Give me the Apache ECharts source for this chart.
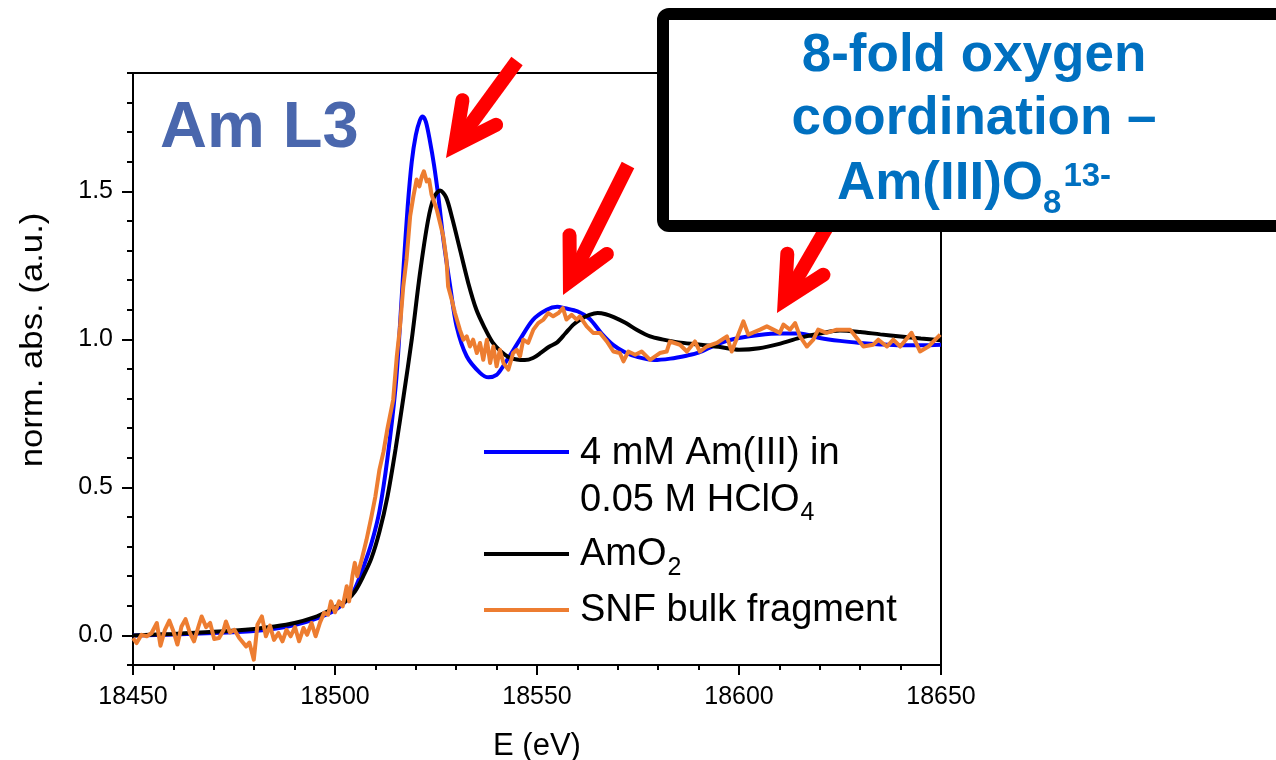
<!DOCTYPE html>
<html>
<head>
<meta charset="utf-8">
<script src="https://cdn.jsdelivr.net/npm/echarts@6/dist/echarts.min.js"></script>
<style>html,body{margin:0;padding:0;background:#fff}#c{width:1276px;height:760px}</style>
</head>
<body>
<div id="c"></div>
<script>
// ---------------- data ----------------
const xTicks = [18450, 18500, 18550, 18600, 18650];
const yTicks = [0.0, 0.5, 1.0, 1.5];
const seriesNames = ['4 mM Am(III) in 0.05 M HClO4', 'AmO2', 'SNF bulk fragment'];

const blueE = [18450,18460,18470,18480,18485,18490,18495,18500,18503,18505,18507,18509,18511,18513,18515,18516,18517,18518,18519,18520,18521,18521.7,18522.5,18523.5,18524.5,18525.6,18526.8,18528.5,18530.1,18532.6,18535.9,18538,18540,18541.6,18545.8,18549,18552.4,18555,18557,18560,18563,18566,18569,18572,18575,18579,18583,18587,18590,18594,18597,18600,18605,18610,18615,18620,18625,18630,18635,18640,18645,18650];
const blueV = [0.0,0.003,0.008,0.015,0.022,0.035,0.055,0.085,0.12,0.16,0.23,0.31,0.42,0.6,0.84,1.03,1.25,1.45,1.6,1.69,1.74,1.753,1.735,1.67,1.59,1.48,1.34,1.18,1.044,0.943,0.887,0.872,0.88,0.909,1.0,1.066,1.10,1.11,1.105,1.095,1.07,1.02,0.98,0.955,0.94,0.93,0.935,0.945,0.955,0.98,0.995,1.005,1.015,1.02,1.02,1.005,0.995,0.988,0.983,0.98,0.98,0.982];

const blackE = [18450,18460,18470,18480,18485,18490,18495,18498,18500,18503,18505,18507,18509,18511,18513,18515,18517,18519,18521,18523,18524.5,18526,18527.5,18529,18531,18533,18535,18537,18539,18541,18543,18545,18547,18549,18551,18553,18555,18557,18559,18561,18563,18565,18567,18569,18572,18575,18578,18581,18585,18590,18595,18600,18605,18610,18615,18620,18625,18630,18635,18640,18645,18650];
const blackV = [0.0,0.005,0.012,0.022,0.03,0.042,0.062,0.08,0.095,0.12,0.15,0.2,0.26,0.35,0.47,0.63,0.81,1.0,1.22,1.40,1.48,1.503,1.48,1.41,1.30,1.19,1.10,1.04,0.99,0.96,0.94,0.932,0.93,0.937,0.955,0.975,0.99,1.02,1.05,1.07,1.083,1.089,1.085,1.075,1.055,1.03,1.01,1.0,0.99,0.983,0.975,0.965,0.97,0.985,1.005,1.02,1.03,1.025,1.017,1.01,1.003,0.997];

const orangeE = [18450,18450.9,18452.1,18453.4,18454.6,18455.9,18456.8,18457.9,18459,18460,18461,18462,18463,18464.1,18465.1,18466.2,18467,18468.1,18469.1,18470.1,18471.3,18472.4,18473,18474,18475.1,18476.3,18478,18478.8,18479.9,18480.8,18481.9,18482.9,18483.9,18484.9,18486,18487,18488,18489,18490.1,18491.1,18492.2,18493.1,18494.2,18495.2,18496.3,18497.3,18498.3,18499,18500,18501,18501.9,18502.9,18503.5,18504.3,18504.9,18505.5,18506.6,18507.8,18509,18510,18511,18512,18513,18514.4,18515.3,18516.1,18516.9,18517.7,18518.6,18519.4,18520.2,18520.9,18521.5,18522,18522.7,18523.3,18523.9,18525.2,18526,18526.8,18527.6,18528,18528.9,18529.7,18530.9,18531.8,18532.6,18533.4,18534.2,18535.1,18535.9,18536.7,18537.6,18538.4,18539.2,18540,18540.8,18541.7,18542.9,18544.1,18545,18545.8,18546.6,18547.8,18549.1,18550.3,18551.6,18552.8,18554,18555.3,18556.4,18557.3,18558.6,18559.8,18560.6,18562.3,18563.9,18565.6,18567.3,18568.9,18570.5,18571.4,18572.6,18574.3,18575.9,18578,18580.4,18582.1,18582.9,18585.4,18587.1,18589.1,18590.3,18592,18594.5,18597,18598.2,18601.1,18602.3,18605.2,18606.9,18608.5,18610.1,18611,18612.6,18613.9,18615.1,18616.8,18618.4,18619.6,18621.7,18624.2,18627.5,18630.8,18633.2,18634.5,18636.6,18638.2,18639.9,18642.7,18644.8,18646.9,18649.8];
const orangeV = [-0.009,-0.026,0.002,-0.003,0.008,0.042,-0.035,0.019,0.05,0.014,-0.031,0.03,0.055,0.008,-0.02,0.03,0.064,0.028,0.042,-0.012,-0.009,0.017,0.047,0.01,0.019,-0.009,-0.037,-0.024,-0.082,0.036,0.064,-0.003,0.033,-0.015,0.008,-0.02,0.019,-0.003,0.028,-0.02,0.025,0.002,0.042,-0.003,0.044,0.076,0.07,0.115,0.078,0.115,0.098,0.166,0.115,0.2,0.245,0.2,0.256,0.323,0.40,0.47,0.56,0.62,0.70,0.796,0.943,1.044,1.179,1.269,1.416,1.483,1.54,1.517,1.551,1.568,1.534,1.54,1.489,1.438,1.393,1.348,1.269,1.179,1.134,1.089,1.033,0.999,1.01,0.976,0.999,0.954,0.988,0.931,0.999,0.92,0.976,0.909,0.965,0.92,0.898,0.954,0.965,0.943,0.999,0.988,1.033,1.055,1.067,1.089,1.078,1.089,1.106,1.067,1.083,1.067,1.078,1.044,1.022,1.022,0.993,0.959,0.954,0.926,0.959,0.948,0.959,0.931,0.954,0.959,0.993,0.982,0.959,0.993,0.959,0.976,0.988,1.01,0.959,1.061,1.016,1.033,1.044,1.033,1.022,1.05,1.033,1.055,1.01,0.976,0.999,1.033,1.022,1.033,1.033,0.976,0.982,0.999,0.976,0.999,0.976,1.022,0.959,0.976,1.016];

// ---------------- chart ----------------
const FONT = '"Liberation Sans", Arial, Helvetica, sans-serif';
const MID = 0.3465; // canvas 'middle' offset above alphabetic baseline (em)
const mctx = document.createElement('canvas').getContext('2d');
function tw(t, size, weight) { mctx.font = (weight || 'normal') + ' ' + size + 'px ' + FONT; return mctx.measureText(t).width; }
function txt(x, baseline, t, size, color, weight, align, z) {
  return { type: 'text', x: x, y: baseline - MID * size, z: z || 120,
    style: { text: t, font: (weight || 'normal') + ' ' + size + 'px ' + FONT, fill: color || '#000',
      align: align || 'left', verticalAlign: 'middle' } };
}
function arrow(T, P, z) {
  const w = 14, th = 27 * Math.PI / 180, L = 46;
  const dx = P[0] - T[0], dy = P[1] - T[1], len = Math.hypot(dx, dy);
  const ux = dx / len, uy = dy / len;
  const off = (w / 2) / Math.sin(th);
  const V = [P[0] - ux * off, P[1] - uy * off];
  const back = Math.atan2(-uy, -ux);
  const b1 = [V[0] + L * Math.cos(back + th), V[1] + L * Math.sin(back + th)];
  const b2 = [V[0] + L * Math.cos(back - th), V[1] + L * Math.sin(back - th)];
  return [
    { type: 'line', z: z, shape: { x1: T[0], y1: T[1], x2: V[0] - ux * 4, y2: V[1] - uy * 4 },
      style: { stroke: '#FF0000', lineWidth: w, lineCap: 'butt' } },
    { type: 'polyline', z: z, shape: { points: [b1, V, b2] },
      style: { stroke: '#FF0000', fill: null, lineWidth: w, lineJoin: 'miter', miterLimit: 10, lineCap: 'round' } }
  ];
}

const chart = echarts.init(document.getElementById('c'), null, { renderer: 'canvas' });

const graphics = [];
// arrows (tail, tip)
graphics.push(...arrow([517, 61], [446, 158], 100));
graphics.push(...arrow([628, 165], [563, 295], 100));
graphics.push(...arrow([866, 160], [777, 313], 100));
// annotation box (above arrow 3)
graphics.push({ type: 'rect', z: 110, shape: { x: 663, y: 14, width: 720, height: 212, r: 6 },
  style: { fill: '#fff', stroke: '#000', lineWidth: 12 } });
const BLUE2 = '#0070C0';
const CX = 974;
graphics.push(txt(CX, 75, '8-fold oxygen', 53, BLUE2, 'bold', 'center'));
graphics.push(txt(CX, 138, 'coordination \u2013', 53, BLUE2, 'bold', 'center'));
(function () {
  const a = 'Am(III)O', s = '8', p = '13-';
  const wa = tw(a, 53, 'bold'), ws = tw(s, 33, 'bold'), wp = tw(p, 33, 'bold');
  const total = wa + ws + wp + 2;
  const x0 = CX - total / 2;
  graphics.push(txt(x0, 203, a, 53, BLUE2, 'bold'));
  graphics.push(txt(x0 + wa, 215, s, 33, BLUE2, 'bold'));
  graphics.push(txt(x0 + wa + ws + 2, 188, p, 33, BLUE2, 'bold'));
})();
// panel label
graphics.push(txt(160, 152, 'Am L3', 65, '#4A67AD', 'bold', 'left', 90));
// legend
const legColors = ['#0000FF', '#000000', '#ED7D31'];
const legY = [452, 554, 610];
legColors.forEach((c, i) => {
  graphics.push({ type: 'line', z: 90, shape: { x1: 484, y1: legY[i], x2: 569, y2: legY[i] },
    style: { stroke: c, lineWidth: 4 } });
});
const LF = 38, SF = 25;
graphics.push(txt(580, 467, '4 mM Am(III) in', LF, '#000', 'normal', 'left', 90));
(function () {
  const a = '0.05 M HClO';
  graphics.push(txt(580, 514, a, LF, '#000', 'normal', 'left', 90));
  graphics.push(txt(580 + tw(a, LF) + 1, 522, '4', SF, '#000', 'normal', 'left', 90));
  const b = 'AmO';
  graphics.push(txt(580, 568, b, LF, '#000', 'normal', 'left', 90));
  graphics.push(txt(580 + tw(b, LF) + 1, 577, '2', SF, '#000', 'normal', 'left', 90));
})();
graphics.push(txt(580, 624, 'SNF bulk fragment', LF, '#000', 'normal', 'left', 90));
// y-axis title
graphics.push({ type: 'text', x: 33, y: 340, rotation: Math.PI / 2, scaleX: 1.12, z: 90,
  style: { text: 'norm. abs. (a.u.)', font: 'normal 31px ' + FONT, fill: '#000', align: 'center', verticalAlign: 'middle' } });

const pair = (E, V) => E.map((e, i) => [e, V[i]]);

const option = {
  backgroundColor: '#ffffff',
  animation: false,
  grid: { left: 133, top: 73, width: 808, height: 592, show: true, borderColor: '#000', borderWidth: 2,
    backgroundColor: 'transparent', containLabel: false, outerBoundsMode: 'none' },
  xAxis: {
    type: 'value', min: xTicks[0], max: xTicks[xTicks.length - 1], interval: 50,
    name: 'E (eV)', nameLocation: 'middle', nameGap: 66,
    nameTextStyle: { fontFamily: FONT, fontSize: 31, color: '#000' },
    axisLine: { show: true, onZero: false, lineStyle: { color: '#000', width: 2 } },
    axisTick: { show: true, length: 10, lineStyle: { color: '#000', width: 2 } },
    minorTick: { show: true, splitNumber: 5, length: 5, lineStyle: { color: '#000', width: 2 } },
    axisLabel: { fontFamily: FONT, fontSize: 25, color: '#000', margin: 20, formatter: v => String(v) },
    splitLine: { show: false }, minorSplitLine: { show: false }
  },
  yAxis: [{
    type: 'value', min: -0.1, max: 1.9, interval: 0.1,
    axisLine: { show: true, onZero: false, lineStyle: { color: '#000', width: 2 } },
    axisTick: { show: true, length: 6, lineStyle: { color: '#000', width: 2 } },
    axisLabel: { fontFamily: FONT, fontSize: 25, color: '#000', margin: 20, customValues: yTicks, formatter: v => Number(v).toFixed(1) },
    splitLine: { show: false }
  }, {
    type: 'value', min: -0.1, max: 1.9, interval: 0.1, position: 'left', offset: 0,
    axisLine: { show: false },
    axisTick: { show: true, length: 11, customValues: yTicks, lineStyle: { color: '#000', width: 2 } },
    axisLabel: { show: false },
    splitLine: { show: false }
  }],
  series: [
    { name: seriesNames[0], type: 'line', data: pair(blueE, blueV), showSymbol: false, smooth: 0.3, z: 3,
      lineStyle: { color: '#0000FF', width: 4 }, itemStyle: { color: '#0000FF' } },
    { name: seriesNames[1], type: 'line', data: pair(blackE, blackV), showSymbol: false, smooth: 0.3, z: 4,
      lineStyle: { color: '#000000', width: 4 }, itemStyle: { color: '#000' } },
    { name: seriesNames[2], type: 'line', data: pair(orangeE, orangeV), showSymbol: false, smooth: false, z: 5,
      lineStyle: { color: '#ED7D31', width: 4, join: 'round' }, itemStyle: { color: '#ED7D31' } }
  ],
  graphic: { elements: graphics }
};
chart.setOption(option);
</script>
</body>
</html>
